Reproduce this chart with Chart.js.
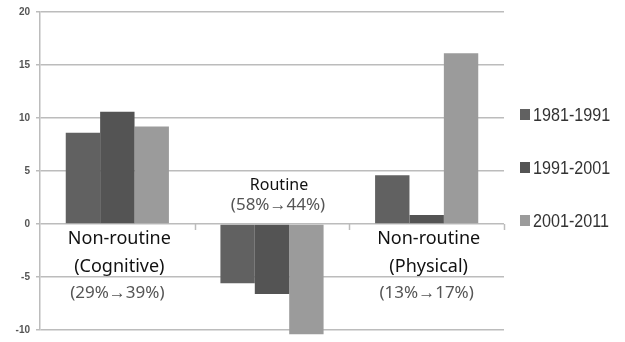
<!DOCTYPE html>
<html>
<head>
<meta charset="utf-8">
<script src="https://cdn.jsdelivr.net/npm/chart.js@4/dist/chart.umd.min.js"></script>
<style>
  html, body { margin: 0; padding: 0; background: #fff; }
  #wrap { width: 625px; height: 342px; position: relative; }
</style>
</head>
<body>
<div id="wrap"><canvas id="c"></canvas></div>
<script>
const categories = ["Non-routine (Cognitive)", "Routine", "Non-routine (Physical)"];
const periods = ["1981-1991", "1991-2001", "2001-2011"];
const v1981 = [8.6, -5.6, 4.6];
const v1991 = [10.6, -6.6, 0.85];
const v2001 = [9.2, -10.4, 16.1];
const shares = ["(29%\u219239%)", "(58%\u219244%)", "(13%\u219217%)"];
const yTicks = [-10, -5, 0, 5, 10, 15, 20];
const colors = ["#616161", "#545454", "#9b9b9b"];

const gridColor = "#bcbcbc";

// category names, shares, tick marks on the zero line and the legend
const catLabels = {
  id: "catLabels",
  afterDatasetsDraw(chart) {
    const ctx = chart.ctx;
    const xs = chart.scales.x, ys = chart.scales.y;
    const zero = ys.getPixelForValue(0);
    const area = chart.chartArea;
    ctx.save();

    // small ticks between categories, below the zero line
    ctx.strokeStyle = gridColor;
    ctx.lineWidth = 1.5;
    const step = (area.right - area.left) / categories.length;
    for (let i = 1; i <= categories.length; i++) {
      const x = Math.round(area.left + step * i) + 0.5;
      ctx.beginPath();
      ctx.moveTo(x, zero);
      ctx.lineTo(x, zero + 6);
      ctx.stroke();
    }

    ctx.textAlign = "center";
    ctx.textBaseline = "middle";
    categories.forEach((c, i) => {
      const cx = xs.getPixelForValue(i);
      if (i === 1) {
        ctx.font = "16px 'Noto Sans'";
        ctx.fillStyle = "#111";
        ctx.fillText("Routine", cx + 7, zero - 39);
        ctx.font = "17px 'Noto Sans'";
        ctx.fillStyle = "#555";
        ctx.fillText(shares[i], cx + 6, zero - 19);
      } else {
        const m = c.match(/^(\S+) (.*)$/);
        ctx.font = "18px 'Noto Sans'";
        ctx.fillStyle = "#111";
        ctx.fillText(m[1], cx + 2, zero + 15);
        ctx.fillText(m[2], cx + 2, zero + 43);
        ctx.font = "17px 'Noto Sans'";
        ctx.fillStyle = "#555";
        ctx.fillText(shares[i], cx, zero + 69);
      }
    });

    // legend on the right
    const lx = area.right + 16;
    const ly = [115, 168, 221];
    ctx.textAlign = "left";
    ctx.font = "19px 'Liberation Sans'";
    periods.forEach((p, i) => {
      ctx.fillStyle = colors[i];
      ctx.fillRect(lx, ly[i] - 6, 10, 11);
      ctx.save();
      ctx.translate(lx + 13, ly[i] + 1);
      ctx.scale(0.85, 1);
      ctx.fillStyle = "#333";
      ctx.fillText(p, 0, 0);
      ctx.restore();
    });
    ctx.restore();
  }
};

new Chart(document.getElementById("c"), {
  type: "bar",
  data: {
    labels: categories,
    datasets: [
      { label: periods[0], data: v1981, backgroundColor: colors[0] },
      { label: periods[1], data: v1991, backgroundColor: colors[1] },
      { label: periods[2], data: v2001, backgroundColor: colors[2] }
    ]
  },
  options: {
    responsive: true,
    maintainAspectRatio: false,
    animation: false,
    layout: { padding: { top: 11, bottom: 9, left: 0, right: 121 } },
    datasets: { bar: { categoryPercentage: 0.667, barPercentage: 1, borderWidth: 0, clip: false } },
    plugins: { legend: { display: false }, tooltip: { enabled: false } },
    scales: {
      x: { display: false },
      y: {
        min: yTicks[0],
        max: yTicks[yTicks.length - 1],
        afterBuildTicks: s => { s.ticks = yTicks.map(v => ({ value: v })); },
        afterFit: s => { s.width = 40; },
        ticks: { color: "#555", padding: 6, font: { family: "'Liberation Sans'", size: 10, weight: "bold" } },
        grid: { color: gridColor, lineWidth: 1.5, tickLength: 4 },
        border: { color: gridColor, width: 1.5 }
      }
    }
  },
  plugins: [catLabels]
});
</script>
</body>
</html>
